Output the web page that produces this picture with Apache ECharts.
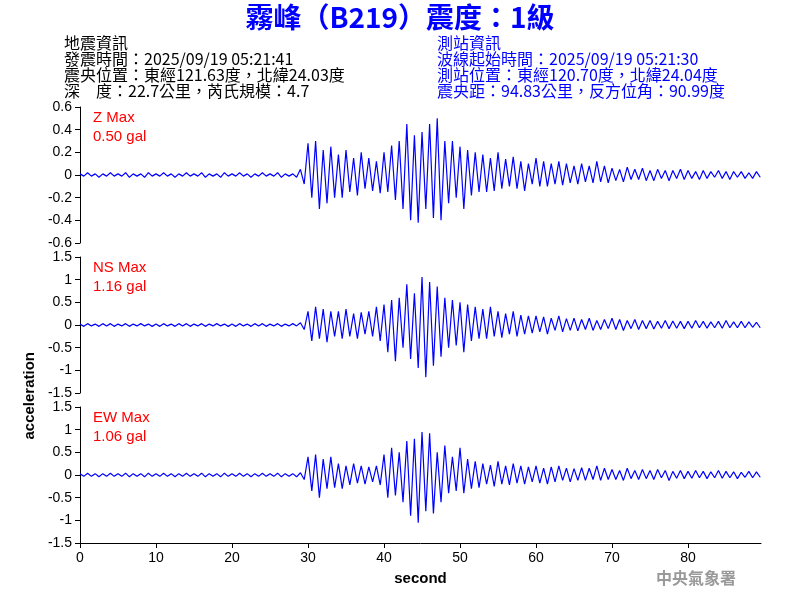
<!DOCTYPE html>
<html>
<head>
<meta charset="utf-8">
<script src="https://cdn.jsdelivr.net/npm/echarts@6/dist/echarts.min.js"></script>
<style>html,body{margin:0;padding:0;background:#fff}#main{width:800px;height:600px}</style>
</head>
<body>
<div id="main"></div>
<script>
// sample step of the traces (seconds)
var dt = 0.5;
var xTicks = [0, 10, 20, 30, 40, 50, 60, 70, 80];

// quiet part before the P wave (0 - 28.5 s)
var zPre = [0.01,-0.01,0.02,-0.01,0.01,-0.02,0.01,-0.01,0.02,-0.01,0.01,-0.01,0.02,-0.02,0.01,-0.01,0.01,-0.02,0.02,-0.01,
  0.01,-0.01,0.02,-0.01,0.01,-0.02,0.01,-0.01,0.02,-0.01,0.01,-0.01,0.02,-0.02,0.01,-0.01,0.01,-0.02,0.02,-0.01,
  0.01,-0.01,0.02,-0.01,0.01,-0.02,0.01,-0.01,0.02,-0.01,0.01,-0.01,0.02,-0.02,0.01,-0.01,0.01,-0.02];
var nsPre = [0.02,-0.03,0.03,-0.02,0.02,-0.03,0.03,-0.02,0.03,-0.03,0.02,-0.02,0.03,-0.03,0.02,-0.02,0.03,-0.02,0.02,-0.03,
  0.02,-0.03,0.03,-0.02,0.02,-0.03,0.03,-0.02,0.03,-0.03,0.02,-0.02,0.03,-0.03,0.02,-0.02,0.03,-0.02,0.02,-0.03,
  0.02,-0.03,0.03,-0.02,0.02,-0.03,0.03,-0.02,0.03,-0.03,0.02,-0.02,0.03,-0.03,0.02,-0.02,0.03,-0.02];
var ewPre = [0.03,-0.03,0.04,-0.03,0.03,-0.04,0.03,-0.03,0.04,-0.03,0.03,-0.03,0.04,-0.04,0.03,-0.03,0.03,-0.04,0.04,-0.03,
  0.03,-0.03,0.04,-0.03,0.03,-0.04,0.03,-0.03,0.04,-0.03,0.03,-0.03,0.04,-0.04,0.03,-0.03,0.03,-0.04,0.04,-0.03,
  0.03,-0.03,0.04,-0.03,0.03,-0.04,0.03,-0.03,0.04,-0.03,0.03,-0.03,0.04,-0.04,0.03,-0.03,0.03,-0.04];

// from 29 s on
var zPost = [0.05,-0.08,
  0.28,-0.2,0.3,-0.3,0.22,-0.25,0.25,-0.2,
  0.18,-0.2,0.22,-0.15,0.15,-0.18,0.2,-0.12,0.15,-0.14,0.12,-0.16,
  0.2,-0.15,0.26,-0.22,0.3,-0.3,
  0.45,-0.4,0.35,-0.42,0.38,-0.3,0.45,-0.38,0.5,-0.4,0.3,-0.25,
  0.3,-0.2,0.25,-0.3,0.22,-0.18,0.2,-0.15,
  0.18,-0.15,0.15,-0.14,0.2,-0.12,0.14,-0.1,0.16,-0.12,0.12,-0.14,0.1,-0.08,
  0.15,-0.1,0.12,-0.1,0.1,-0.08,0.12,-0.09,0.1,-0.07,0.08,-0.08,0.1,-0.06,0.08,-0.07,0.12,-0.06,0.08,-0.07,
  0.06,-0.05,0.05,-0.06,0.07,-0.04,0.05,-0.04,0.06,-0.05,0.04,-0.05,0.05,-0.03,0.04,-0.05,0.04,-0.03,0.05,-0.04,
  0.04,-0.03,0.03,-0.04,0.04,-0.03,0.03,-0.02,0.04,-0.03,0.03,-0.04,0.03,-0.02,0.03,-0.03,0.02,-0.03,0.03,-0.02];
var nsPost = [0.05,-0.1,
  0.3,-0.35,0.4,-0.3,0.35,-0.38,0.3,-0.25,
  0.3,-0.3,0.35,-0.25,0.25,-0.3,0.28,-0.2,0.3,-0.25,0.4,-0.35,
  0.45,-0.6,0.55,-0.8,0.6,-0.5,
  0.9,-0.75,0.7,-0.95,1.06,-1.15,0.95,-0.9,0.85,-0.7,0.6,-0.5,
  0.55,-0.45,0.5,-0.6,0.45,-0.35,0.4,-0.3,
  0.35,-0.3,0.4,-0.25,0.3,-0.28,0.25,-0.2,0.3,-0.25,0.22,-0.2,0.2,-0.18,
  0.2,-0.15,0.18,-0.2,0.15,-0.12,0.2,-0.15,0.14,-0.12,0.15,-0.13,0.12,-0.1,0.15,-0.12,0.1,-0.1,0.12,-0.08,
  0.15,-0.1,0.12,-0.12,0.1,-0.08,0.12,-0.1,0.1,-0.08,0.1,-0.09,0.08,-0.07,0.1,-0.08,0.09,-0.07,0.08,-0.08,
  0.08,-0.07,0.1,-0.06,0.08,-0.07,0.07,-0.06,0.08,-0.07,0.1,-0.06,0.07,-0.06,0.08,-0.06,0.07,-0.05,0.06,-0.06];
var ewPost = [0.05,-0.1,
  0.4,-0.35,0.45,-0.5,0.35,-0.3,0.4,-0.28,
  0.25,-0.3,0.2,-0.22,0.25,-0.18,0.2,-0.2,0.18,-0.15,0.2,-0.22,
  0.45,-0.5,0.6,-0.45,0.5,-0.6,
  0.75,-0.9,0.8,-1.05,0.95,-0.8,0.92,-0.85,0.5,-0.6,0.65,-0.4,
  0.4,-0.35,0.6,-0.4,0.35,-0.3,0.3,-0.28,
  0.25,-0.2,0.22,-0.25,0.3,-0.2,0.2,-0.22,0.25,-0.18,0.2,-0.2,0.18,-0.15,
  0.2,-0.18,0.15,-0.2,0.18,-0.15,0.2,-0.12,0.15,-0.15,0.14,-0.12,0.16,-0.12,0.15,-0.1,0.2,-0.12,0.15,-0.1,
  0.12,-0.1,0.1,-0.12,0.15,-0.08,0.1,-0.1,0.12,-0.08,0.1,-0.1,0.12,-0.06,0.1,-0.12,0.08,-0.07,0.1,-0.08,
  0.08,-0.07,0.1,-0.06,0.08,-0.08,0.07,-0.06,0.1,-0.07,0.08,-0.06,0.07,-0.08,0.06,-0.05,0.08,-0.06,0.07,-0.05];

var panelNames = ['Z Max', 'NS Max', 'EW Max'];
var panelPeaks = ['0.50 gal', '1.16 gal', '1.06 gal'];
var yLimits = [0.6, 1.5, 1.5];
var ySteps = [0.2, 0.5, 0.5];

var chart = echarts.init(document.getElementById('main'));

function pairs(arr) {
  return arr.map(function (v, i) { return [i * dt, v]; });
}
var traces = [zPre.concat(zPost), nsPre.concat(nsPost), ewPre.concat(ewPost)];

var tops = [107, 257, 407];
var grids = [], xAxes = [], yAxes = [], series = [], texts = [];
for (var i = 0; i < 3; i++) {
  var last = i == 2;
  grids.push({ left: 80, width: 681, top: tops[i], height: 136 });
  xAxes.push({
    gridIndex: i, type: 'value', min: 0, max: 89.6, interval: 10,
    show: last,
    axisLine: { onZero: false, lineStyle: { color: '#000', width: 1 } },
    axisTick: { lineStyle: { color: '#000' } },
    axisLabel: { color: '#000', fontSize: 14, fontFamily: 'Arial', showMaxLabel: false },
    splitLine: { show: false },
    name: last ? 'second' : '', nameLocation: 'middle', nameGap: 28,
    nameTextStyle: { color: '#000', fontSize: 15, fontWeight: 'bold', fontFamily: 'Arial' }
  });
  yAxes.push({
    gridIndex: i, type: 'value', min: -yLimits[i], max: yLimits[i], interval: ySteps[i],
    axisLine: { show: true, onZero: false, lineStyle: { color: '#000', width: 1 } },
    axisTick: { show: true, lineStyle: { color: '#000' } },
    axisLabel: { color: '#000', fontSize: 14, fontFamily: 'Arial' },
    splitLine: { show: false }
  });
  series.push({
    type: 'line', xAxisIndex: i, yAxisIndex: i, data: pairs(traces[i]),
    showSymbol: false, lineStyle: { color: '#0000ff', width: 1.2 }, animation: false
  });
  texts.push({ type: 'text', left: 93, top: tops[i] + 3, style: { text: panelNames[i], fill: '#ff0000', font: '15px Arial' } });
  texts.push({ type: 'text', left: 93, top: tops[i] + 22, style: { text: panelPeaks[i], fill: '#ff0000', font: '15px Arial' } });
}

var infoLeft = ['地震資訊', '發震時間：2025/09/19 05:21:41', '震央位置：東經121.63度，北緯24.03度', '深　度：22.7公里，芮氏規模：4.7'];
var infoRight = ['測站資訊', '波線起始時間：2025/09/19 05:21:30', '測站位置：東經120.70度，北緯24.04度', '震央距：94.83公里，反方位角：90.99度'];
infoLeft.forEach(function (t, k) {
  texts.push({ type: 'text', left: 64, top: 35 + k * 16, style: { text: t, fill: '#000', font: '16px "Noto Sans CJK TC", Arial', lineHeight: 16 } });
});
infoRight.forEach(function (t, k) {
  texts.push({ type: 'text', left: 437, top: 35 + k * 16, style: { text: t, fill: '#0000ff', font: '16px "Noto Sans CJK TC", Arial', lineHeight: 16 } });
});
texts.push({ type: 'text', left: 'center', top: 1, style: { text: '霧峰（B219）震度：1級', fill: '#0000ff', font: 'bold 28px "Noto Sans CJK TC", Arial', lineHeight: 32 } });
texts.push({ type: 'text', left: 22, top: 352, rotation: Math.PI / 2, style: { text: 'acceleration', fill: '#000', font: 'bold 15px Arial' } });
texts.push({ type: 'text', left: 656, top: 570, style: { text: '中央氣象署', fill: '#999', font: 'bold 16px "Noto Sans CJK TC"' } });

chart.setOption({
  animation: false,
  grid: grids,
  xAxis: xAxes,
  yAxis: yAxes,
  series: series,
  graphic: texts
});
</script>
</body>
</html>
